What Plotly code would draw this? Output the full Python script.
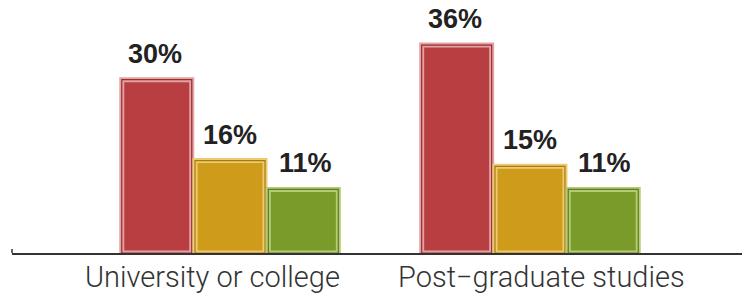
import plotly.graph_objects as go

categories = ["University or college", "Post\u2212graduate studies"]
series_names = ["A", "B", "C"]
values_a = [30, 36]
values_b = [16, 15]
values_c = [11, 11]

colors = ["#B83E41", "#CF9B1B", "#7A9A2A"]
edge_light = ["#E3A3A4", "#EDCB72", "#B5CB78"]
edge_dark = ["#9B2C2F", "#A87A0E", "#5E7C1C"]

fig = go.Figure()
for name, vals, col, light, dark in zip(series_names, [values_a, values_b, values_c], colors, edge_light, edge_dark):
    fig.add_trace(go.Bar(
        x=categories, y=vals, name=name, offsetgroup=name,
        marker=dict(color=col, line=dict(color=light, width=5)),
        cliponaxis=False,
    ))
    fig.add_trace(go.Bar(
        x=categories, y=vals, name=name + " edge", offsetgroup=name,
        marker=dict(color="rgba(0,0,0,0)", line=dict(color=dark, width=1.2)),
        cliponaxis=False, hoverinfo="skip",
    ))

# value labels above bars
offsets = [-0.25, 0.0, 0.25]
for vals, off in zip([values_a, values_b, values_c], offsets):
    for i, v in enumerate(vals):
        fig.add_annotation(
            x=i + off, y=v, xref="x", yref="y", text=f"{v}%", showarrow=False,
            yanchor="bottom", yshift=9,
            font=dict(family="Liberation Sans, Arial", size=27, color="#222222", weight="bold"),
        )

label_shifts = [-18, 12]
for i, (cat, sh) in enumerate(zip(categories, label_shifts)):
    fig.add_annotation(
        x=i, y=0, xref="x", yref="y", text=cat, showarrow=False,
        yanchor="top", yshift=-5, xshift=sh,
        font=dict(family="Roboto", size=29, color="#333333", weight=300),
    )

fig.add_shape(type="line", xref="paper", yref="paper", x0=0, x1=0, y0=0, y1=4/253,
              line=dict(color="#333333", width=1.5))

fig.update_layout(
    width=742, height=293,
    margin=dict(l=12, r=0, t=0, b=40),
    paper_bgcolor="white", plot_bgcolor="white",
    barmode="group", bargap=0.267, bargroupgap=0.045,
    showlegend=False,
)
fig.update_xaxes(range=[-0.727, 1.707], showticklabels=False, ticks="",
                 showline=True, linecolor="#333333", linewidth=1.5, showgrid=False, zeroline=False)
fig.update_yaxes(range=[0, 43.8], visible=False, showgrid=False, zeroline=False)

fig.write_html("out.html", config={"displayModeBar": False},
               post_script="document.body.style.margin='0';document.body.style.overflow='hidden';")
